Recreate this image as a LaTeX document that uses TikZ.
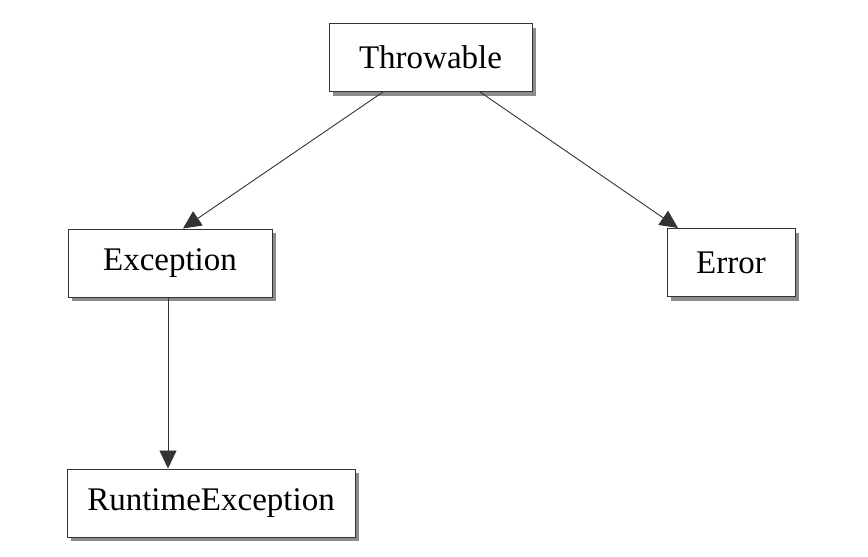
\documentclass[tikz,border=0pt]{standalone}
\usepackage{fontspec}
\setmainfont{Liberation Serif}
\usepackage{tikz}
\usetikzlibrary{arrows.meta,shadows}

\begin{document}
\begin{tikzpicture}[x=1pt,y=1pt,
    cls/.style={draw=black!80,line width=1pt,fill=white,minimum height=68pt,
      inner sep=0pt,font=\fontsize{33}{40}\selectfont,
      drop shadow={shadow xshift=4pt,shadow yshift=-4pt,fill=black!45,opacity=1}},
    inh/.style={-{Triangle[length=18pt,width=17pt]},draw=black!80,line width=0.9pt}]
      \useasboundingbox (0,0) rectangle (868,-557);
      \node[cls,minimum width=203pt](throwable) at (430.5,-57.5){Throwable};
      \node[cls,minimum width=204pt](exception) at (170,-263){Exception};
      \node[cls,minimum width=128pt](error) at (731,-262.5){Error};
      \node[cls,minimum width=288pt](runtime) at (211,-503){RuntimeException};
      \path
        ([xshift=-47.5pt]throwable.south) edge[inh] ([xshift=13pt]exception.north)
        ([xshift=49.5pt]throwable.south) edge[inh] ([xshift=-53pt]error.north)
        ([xshift=-2pt]exception.south) edge[inh] ([xshift=-43pt]runtime.north)
      ;
    \end{tikzpicture}
\end{document}
